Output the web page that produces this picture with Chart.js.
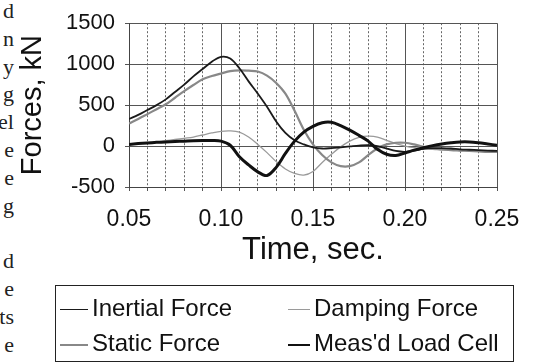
<!DOCTYPE html>
<html>
<head>
<meta charset="utf-8">
<title>Forces vs time</title>
<script src="https://cdn.jsdelivr.net/npm/chart.js@4.4.1/dist/chart.umd.min.js"></script>
<style>
  html, body { margin: 0; padding: 0; background: #fff; }
  #wrap { position: relative; width: 535px; height: 363px; overflow: hidden; }
  #chart { position: absolute; left: 0; top: 0; }
  /* cut-off body text of the page the figure was scanned from */
  #margin {
    position: absolute; left: -100px; top: 0; width: 114px;
    text-align: right; white-space: pre;
    font-family: "Liberation Serif", "Times New Roman", serif;
    font-size: 22px; line-height: 27.8px; color: #222;
    margin-top: -3px;
  }
  #legend {
    position: absolute; left: 55px; top: 285px; width: 459px; height: 77px;
    border: 1.5px solid #222; box-sizing: border-box;
    font-family: "Liberation Sans", Arial, sans-serif; font-size: 24px; color: #111;
  }
  .item { position: absolute; white-space: nowrap; line-height: 24px; }
  .swatch { display: inline-block; vertical-align: middle; margin-right: 4px; }
</style>
</head>
<body>
<div id="wrap">
  <div id="margin">d
n
y
g
el
e
e
g

d
e
ts
e</div>
  <canvas id="chart" width="535" height="363"></canvas>
  <div id="legend"></div>
</div>
<script>
// time axis, sec (every 0.005 s)
const tiempos = [
  0.050, 0.055, 0.060, 0.065, 0.070, 0.075, 0.080, 0.085, 0.090, 0.095,
  0.100, 0.105, 0.110, 0.115, 0.120, 0.125, 0.130, 0.135, 0.140, 0.145,
  0.150, 0.155, 0.160, 0.165, 0.170, 0.175, 0.180, 0.185, 0.190, 0.195,
  0.200, 0.205, 0.210, 0.215, 0.220, 0.225, 0.230, 0.235, 0.240, 0.245,
  0.250
];

// forces, kN
const inercial = [
  330, 380, 440, 500, 570, 660, 750, 850, 940, 1030,
  1090, 1070, 950, 790, 640, 480, 300, 160, 70, 20,
  -15, -30, -25, -15, -5, 5, 10, 0, -30, -60,
  -70, -55, -35, -25, -25, -30, -40, -45, -50, -55,
  -60
];
const amortiguamiento = [
  20, 30, 40, 50, 65, 80, 95, 110, 135, 160,
  180, 185, 170, 110, 20, -80, -190, -280, -335, -355,
  -310, -200, -100, -10, 60, 105, 120, 110, 70, 30,
  0, -20, -30, -40, -45, -50, -55, -60, -60, -65,
  -70
];
const estatica = [
  275, 330, 390, 450, 510, 590, 670, 745, 815, 855,
  885, 915, 925, 920, 910, 860, 770, 640, 430, 200,
  20, -110, -200, -245, -245, -200, -110, -30, 20, 40,
  40, 20, -10, -30, -40, -50, -55, -60, -65, -70,
  -70
];
const celdaCarga = [
  20, 30, 38, 45, 50, 55, 60, 65, 67, 67,
  60, 10, -130, -230, -315, -360, -260, -90, 60, 170,
  240, 285, 290, 250, 195, 130, 60, -40, -100, -115,
  -85, -50, -20, 5, 25, 40, 50, 50, 40, 25,
  10
];

const etiquetas = ["Inertial Force", "Damping Force", "Static Force", "Meas'd Load Cell"];

const FUENTE = '"Liberation Sans", Arial, sans-serif';

function esMayor(v) {
  return Math.round(v * 100) % 5 === 0;
}

function puntos(valores) {
  return tiempos.map((t, i) => ({ x: t, y: valores[i] }));
}

const datasets = [
  { label: etiquetas[0], data: puntos(inercial), borderColor: "#1a1a1a", borderWidth: 1.8, order: 1 },
  { label: etiquetas[1], data: puntos(amortiguamiento), borderColor: "#9a9a9a", borderWidth: 1.3, order: 3 },
  { label: etiquetas[2], data: puntos(estatica), borderColor: "#888888", borderWidth: 2.2, order: 2 },
  { label: etiquetas[3], data: puntos(celdaCarga), borderColor: "#111111", borderWidth: 3, order: 0 }
];
datasets.forEach((d) => {
  d.pointRadius = 0;
  d.tension = 0.35;
  d.fill = false;
});

const chart = new Chart(document.getElementById("chart").getContext("2d"), {
  type: "line",
  data: { datasets },
  options: {
    responsive: false,
    animation: false,
    layout: { padding: { top: 17, right: 38, bottom: 93, left: 0 } },
    plugins: {
      legend: { display: false },
      tooltip: { enabled: false }
    },
    scales: {
      x: {
        type: "linear",
        min: 0.05,
        max: 0.25,
        ticks: {
          stepSize: 0.01,
          autoSkip: false,
          maxRotation: 0,
          padding: 15,
          color: "#111",
          font: { family: FUENTE, size: 23 },
          callback: (v) => (esMayor(v) ? v.toFixed(2) : "")
        },
        grid: {
          color: (ctx) => (ctx.tick && esMayor(ctx.tick.value) ? "#555" : "#666"),
          lineWidth: 1,
          tickLength: 4,
          tickColor: "#555"
        },
        border: {
          color: "#444",
          width: 1,
          dash: (ctx) => (ctx.tick && !esMayor(ctx.tick.value) ? [2, 2] : [])
        },
        title: {
          display: true,
          text: "Time, sec.",
          color: "#111",
          font: { family: FUENTE, size: 31 },
          padding: { top: 0, bottom: 1 }
        },
        afterFit: (scale) => { scale.height = 83; }
      },
      y: {
        min: -500,
        max: 1500,
        ticks: {
          stepSize: 500,
          padding: 10,
          color: "#111",
          font: { family: FUENTE, size: 22 },
          callback: (v) => String(v)
        },
        grid: { color: "#555", lineWidth: 1, tickLength: 4, tickColor: "#555" },
        border: { color: "#444", width: 1 },
        title: {
          display: true,
          text: "Forces, kN",
          color: "#111",
          font: { family: FUENTE, size: 29 },
          padding: { top: 16, bottom: 0 }
        },
        afterFit: (scale) => { scale.width = 129; }
      }
    }
  }
});

// two-column legend box under the chart, built from the datasets
const legend = document.getElementById("legend");
const posiciones = [
  { left: 4, top: 10, line: 28 },
  { left: 232, top: 10, line: 22 },
  { left: 4, top: 45, line: 28 },
  { left: 232, top: 45, line: 22 }
];
chart.data.datasets.forEach((d, i) => {
  const p = posiciones[i];
  const item = document.createElement("div");
  item.className = "item";
  item.style.left = p.left + "px";
  item.style.top = p.top + "px";
  const sw = document.createElement("span");
  sw.className = "swatch";
  sw.style.width = p.line + "px";
  sw.style.height = "0";
  sw.style.borderTop = Math.min(d.borderWidth, 2) + "px solid " + d.borderColor;
  item.appendChild(sw);
  item.appendChild(document.createTextNode(d.label));
  legend.appendChild(item);
});
</script>
</body>
</html>
